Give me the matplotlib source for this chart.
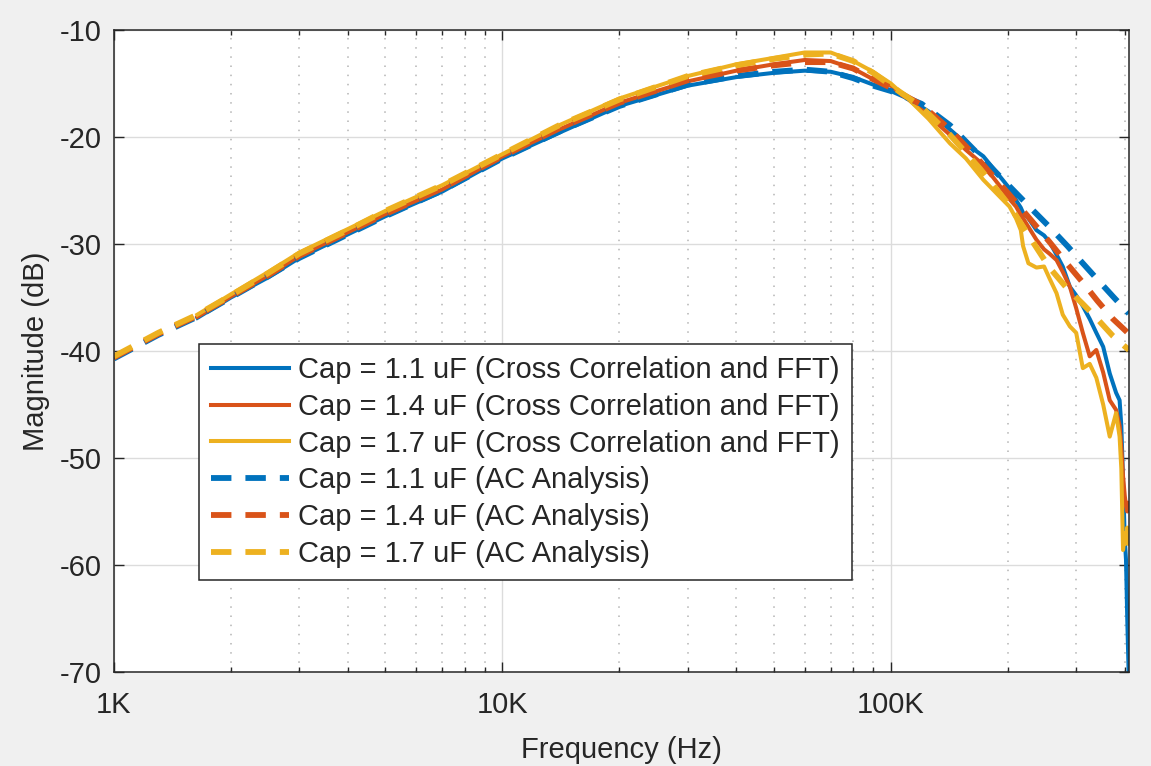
import matplotlib.pyplot as plt
import numpy as np
from matplotlib.ticker import FixedLocator, FixedFormatter, LogLocator, NullFormatter

plt.rcParams['font.family'] = ['Liberation Sans', 'DejaVu Sans']
plt.rcParams['axes.unicode_minus'] = False

# Datos
# -----------------------------------------------------------------------------
# Analisis AC (lineas punteadas)
f_ac = [1000, 1300, 1640, 2000, 2500, 3000, 4000, 5000, 7000, 10000, 14000, 20000,
        30000, 40000, 50000, 60000, 70000, 80000, 90000, 100000, 120000, 142000,
        170000, 202000, 230000, 256000, 285000, 312000, 340000, 373000, 410000]
ac_11 = [-40.7, -38.5, -36.8, -35.0, -33.0, -31.3, -29.1, -27.4, -25.0, -22.0, -19.5, -17.1,
         -15.1, -14.3, -13.9, -13.7, -13.9, -14.5, -15.2, -15.7, -16.9, -18.9,
         -21.8, -24.6, -26.7, -28.4, -30.2, -31.8, -33.3, -34.9, -36.5]
ac_14 = [-40.6, -38.4, -36.7, -34.9, -32.9, -31.1, -28.9, -27.2, -24.8, -21.8, -19.2, -16.8,
         -14.7, -13.8, -13.3, -13.0, -13.0, -13.6, -14.6, -15.4, -17.0, -19.3,
         -22.3, -25.4, -27.8, -29.8, -31.9, -33.6, -35.3, -37.0, -38.4]
ac_17 = [-40.5, -38.3, -36.6, -34.8, -32.7, -30.9, -28.7, -26.9, -24.5, -21.6, -18.9, -16.5,
         -14.3, -13.3, -12.7, -12.3, -12.2, -12.9, -14.0, -15.2, -17.2, -19.8,
         -23.0, -26.4, -29.6, -32.2, -34.2, -35.6, -37.0, -38.6, -39.9]

# Correlacion cruzada y FFT (lineas solidas)
f_med = [1640, 2000, 2500, 3000, 4000, 5000, 7000, 10000, 14000, 20000, 30000, 40000,
         50000, 60000, 70000, 80000, 90000, 100000, 112000, 125000, 142000, 156000,
         173000, 191000, 202000, 210000, 216000, 219000, 226000, 237000, 248000, 256000,
         267000, 277000, 289000, 300000, 312000, 325000, 338000, 352000, 366000, 380000,
         388000, 392000, 396000, 400000, 403000, 406000, 410000]
med_11 = [-36.9, -35.0, -33.1, -31.3, -29.1, -27.4, -25.1, -22.0, -19.6, -17.1, -15.2, -14.4,
          -14.0, -13.8, -13.9, -14.4, -15.1, -15.7, -16.5, -17.6, -19.3, -20.6,
          -21.8, -23.7, -24.8, -25.9, -26.6, -27.1, -27.6, -28.7, -29.2, -29.8,
          -31.0, -32.1, -34.0, -34.8, -35.8, -37.0, -38.3, -39.6, -42.1, -43.9,
          -44.6, -47.0, -52.0, -57.5, -59.5, -65.0, -71.0]
med_14 = [-36.8, -34.9, -32.9, -31.1, -28.9, -27.2, -24.9, -21.8, -19.3, -16.8, -14.8, -13.8,
          -13.2, -12.8, -12.9, -13.6, -14.6, -15.2, -16.6, -18.0, -19.8, -21.2,
          -22.6, -24.6, -25.8, -26.5, -27.3, -27.6, -28.4, -29.6, -30.5, -30.9,
          -31.5, -32.6, -34.0, -36.0, -38.3, -40.5, -39.9, -42.0, -44.6, -45.5,
          -47.0, -49.0, -51.7, -53.5, -54.5, -55.0, -54.2]
med_17 = [-36.6, -34.7, -32.6, -30.8, -28.6, -26.9, -24.5, -21.6, -18.9, -16.4, -14.3, -13.2,
          -12.6, -12.1, -12.1, -12.9, -13.9, -15.0, -16.6, -18.3, -20.6, -22.0,
          -24.0, -25.6, -26.5, -27.6, -28.7, -30.2, -31.8, -32.2, -32.1, -33.2,
          -34.6, -36.6, -37.7, -38.3, -41.6, -41.2, -42.5, -45.0, -48.0, -45.8,
          -48.0, -51.0, -58.6, -57.0, -58.0, -56.5, -58.0]

etiquetas = ["Cap = 1.1 uF (Cross Correlation and FFT)",
             "Cap = 1.4 uF (Cross Correlation and FFT)",
             "Cap = 1.7 uF (Cross Correlation and FFT)",
             "Cap = 1.1 uF (AC Analysis)",
             "Cap = 1.4 uF (AC Analysis)",
             "Cap = 1.7 uF (AC Analysis)"]
colores = ["#0072BD", "#D95319", "#EDB120"]

x_ticks = [1e3, 1e4, 1e5]
x_tick_labels = ["1K", "10K", "100K"]
y_ticks = [-70, -60, -50, -40, -30, -20, -10]

# Grafico
# -----------------------------------------------------------------------------
GRIS = "#262626"
FS = 21
fig = plt.figure(figsize=(11.51, 7.66), dpi=100, facecolor="#f0f0f0")
ax = fig.add_axes([0.0990, 0.1227, 0.8818, 0.8381])

for med, c, lab in zip([med_11, med_14, med_17], colores, etiquetas[:3]):
    ax.plot(f_med, med, color=c, lw=2.9, label=lab)
for ac, c, lab in zip([ac_11, ac_14, ac_17], colores, etiquetas[3:]):
    ax.plot(f_ac, ac, color=c, lw=4.2, ls=(0, (3.5, 2.4)), label=lab)

ax.set_xscale("log")
ax.set_xlim(1e3, 4.1e5)
ax.set_ylim(-70, -10)

ax.xaxis.set_major_locator(FixedLocator(x_ticks))
ax.xaxis.set_major_formatter(FixedFormatter(x_tick_labels))
ax.xaxis.set_minor_locator(LogLocator(base=10, subs=np.arange(2, 10)))
ax.xaxis.set_minor_formatter(NullFormatter())
ax.yaxis.set_major_locator(FixedLocator(y_ticks))

ax.grid(True, which="major", color="#dcdcdc", lw=1.0, ls="-")
ax.grid(True, which="minor", axis="x", color="#b4b4b4", lw=1.1, ls=(0, (1, 5)))
ax.set_axisbelow(True)

ax.tick_params(which="both", direction="in", top=True, right=True, colors=GRIS,
               labelsize=FS, width=1.0)
ax.tick_params(which="major", length=7)
ax.tick_params(which="minor", length=3.5)
ax.tick_params(axis="x", which="major", pad=14)
ax.tick_params(axis="y", which="major", pad=9)
for s in ax.spines.values():
    s.set_color(GRIS)
    s.set_linewidth(1.1)

ax.set_xlabel("Frequency (Hz)", fontsize=FS, color=GRIS, labelpad=12)
ax.set_ylabel("Magnitude (dB)", fontsize=FS, color=GRIS, labelpad=7)

leg = ax.legend(loc="lower left", bbox_to_anchor=(0.0837, 0.1433), borderaxespad=0,
                fontsize=FS, handlelength=2.67, handletextpad=0.3, borderpad=0.42,
                labelspacing=0.3, fancybox=False, framealpha=1, edgecolor=GRIS)
leg.get_frame().set_linewidth(1.1)
for t in leg.get_texts():
    t.set_color(GRIS)

fig.savefig("out.png", dpi=100, facecolor=fig.get_facecolor())
